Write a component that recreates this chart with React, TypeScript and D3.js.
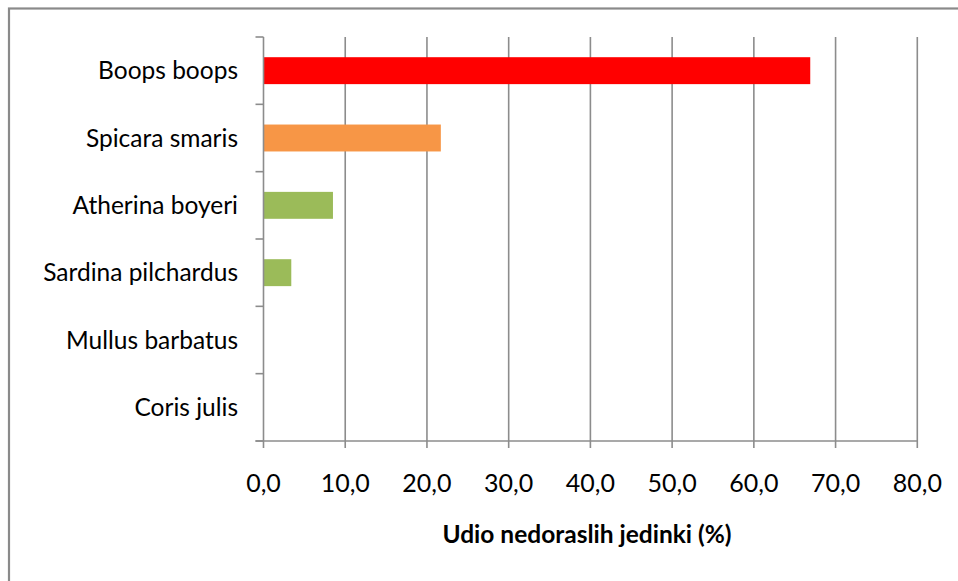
import React from "react";
import * as d3 from "d3";

const categories = ["Boops boops", "Spicara smaris", "Atherina boyeri", "Sardina pilchardus", "Mullus barbatus", "Coris julis"];
const values = [66.9, 21.7, 8.5, 3.4, 0, 0];
const barColors = ["#FF0000", "#F79646", "#9BBB59", "#9BBB59", "#9BBB59", "#9BBB59"];
const xTicks = [0, 10, 20, 30, 40, 50, 60, 70, 80];
const axisTitle = "Udio nedoraslih jedinki (%)";

const W = 958;
const H = 581;
const FONT = "Lato, 'Open Sans', sans-serif";

export default function App() {
  const x = d3.scaleLinear().domain([0, 80]).range([263.5, 917.3]);
  const y = d3.scaleBand<string>().domain(categories).range([37, 441]).paddingInner(0.6).paddingOuter(0.3);
  const fmt = d3.formatLocale({ decimal: ",", thousands: ".", grouping: [3], currency: ["", ""] }).format(".1f");
  const step = y.step();
  const top = 37;
  const bottom = 441;
  const gridColor = "#8C8C8C";
  const boundaries = d3.range(categories.length + 1).map((i) => top + i * step);

  return (
    <svg width={W} height={H} style={{ position: "absolute", left: 0, top: 0, background: "#fff" }}>
      <rect x={9} y={8.5} width={W + 20} height={H + 20} fill="#fff" stroke="#8A8A8A" strokeWidth={2.2} />
      {xTicks.slice(1).map((t) => (
        <line key={"g" + t} x1={x(t)} x2={x(t)} y1={top} y2={bottom + 7} stroke={gridColor} strokeWidth={1.6} />
      ))}
      {categories.map((c, i) =>
        values[i] > 0 ? (
          <rect key={c} x={x(0)} y={y(c)} width={x(values[i]) - x(0)} height={y.bandwidth()} fill={barColors[i]} />
        ) : null
      )}
      <line x1={x(0)} x2={x(0)} y1={top} y2={bottom + 7} stroke={gridColor} strokeWidth={1.6} />
      {boundaries.map((b, i) => (
        <line key={"yt" + i} x1={x(0) - 8} x2={x(0)} y1={b} y2={b} stroke={gridColor} strokeWidth={1.6} />
      ))}
      <line x1={x(0) - 8} x2={x(80)} y1={bottom} y2={bottom} stroke={gridColor} strokeWidth={1.6} />
      {categories.map((c) => (
        <text
          key={"l" + c}
          x={238}
          y={(y(c) as number) + y.bandwidth() / 2}
          dy="0.35em"
          textAnchor="end"
          fontFamily={FONT}
          fontSize={24.5}
          fill="#000"
        >
          {c}
        </text>
      ))}
      {xTicks.map((t) => (
        <text key={"xl" + t} x={x(t)} y={492} textAnchor="middle" fontFamily={FONT} fontSize={25} fill="#000">
          {fmt(t)}
        </text>
      ))}
      <text x={587} y={543} textAnchor="middle" fontFamily={FONT} fontSize={24.5} fontWeight="bold" fill="#000">
        {axisTitle}
      </text>
    </svg>
  );
}
